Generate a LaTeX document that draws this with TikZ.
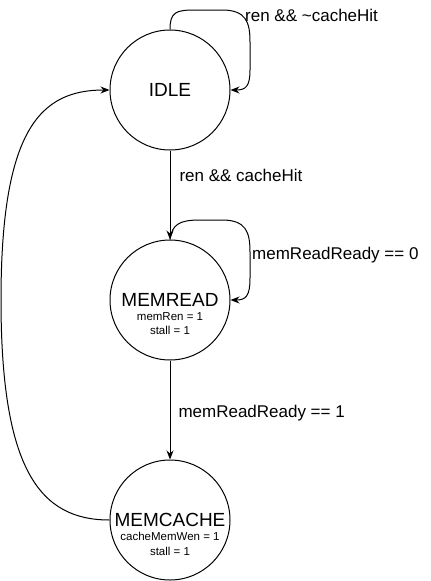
\documentclass[tikz,border=0pt]{standalone}
\usepackage{fontspec}
\setmainfont{Liberation Sans}
\usetikzlibrary{arrows.meta,positioning}
\tikzset{
  state/.style={draw, circle, minimum size=120pt, inner sep=0pt, line width=1pt, font=\fontsize{19}{22}\selectfont},
  lbl/.style={anchor=west, inner sep=0pt, font=\fontsize{17}{20}\selectfont},
  outs/.style={inner sep=0pt, align=center, font=\fontsize{11.5}{14.5}\selectfont},
  edge/.style={line width=1pt, -{Stealth[length=9pt,width=7pt]}}
}
\begin{document}
\begin{tikzpicture}[x=1pt,y=-1pt]
\useasboundingbox (0,0) rectangle (431,581);

\node[state] (idle) at (170,90) {IDLE};
\node[state] (memread) at (170,300) {MEMREAD};
\node[state] (memcache) at (170,520) {MEMCACHE};

\node[outs, below=12pt of memread.center] (readout) {memRen = 1\\stall = 1};
\node[outs, below=12pt of memcache.center] (cacheout) {cacheMemWen = 1\\stall = 1};

\draw[edge] (idle.north) .. controls (170,12) and (176,10) .. (195,10) -- (222,10)
  .. controls (246,10) and (250,22) .. (250,42) -- (250,70) .. controls (250,86) and (246,90) .. (idle.east);
\node[lbl] (misslbl) at (245,15) {ren \&\& \textasciitilde cacheHit};

\draw[edge] (memread.north) .. controls (172,224) and (180,220) .. (200,220) -- (222,220)
  .. controls (246,220) and (250,232) .. (250,252) -- (250,278) .. controls (250,296) and (246,300) .. (memread.east);
\node[lbl] (waitlbl) at (252,255) {memReadReady == 0};

\draw[edge] (memread) -- node[lbl, right=8pt, pos=0.53] (readylbl) {memReadReady == 1} (memcache);
\draw[edge] (idle) -- node[lbl, right=9pt, pos=0.28] (hitlbl) {ren \&\& cacheHit} (memread);

\draw[edge] (memcache.west) .. controls (40,520) and (1,470) .. (1,300)
  .. controls (1,130) and (40,90) .. (idle.west);
\end{tikzpicture}
\end{document}
